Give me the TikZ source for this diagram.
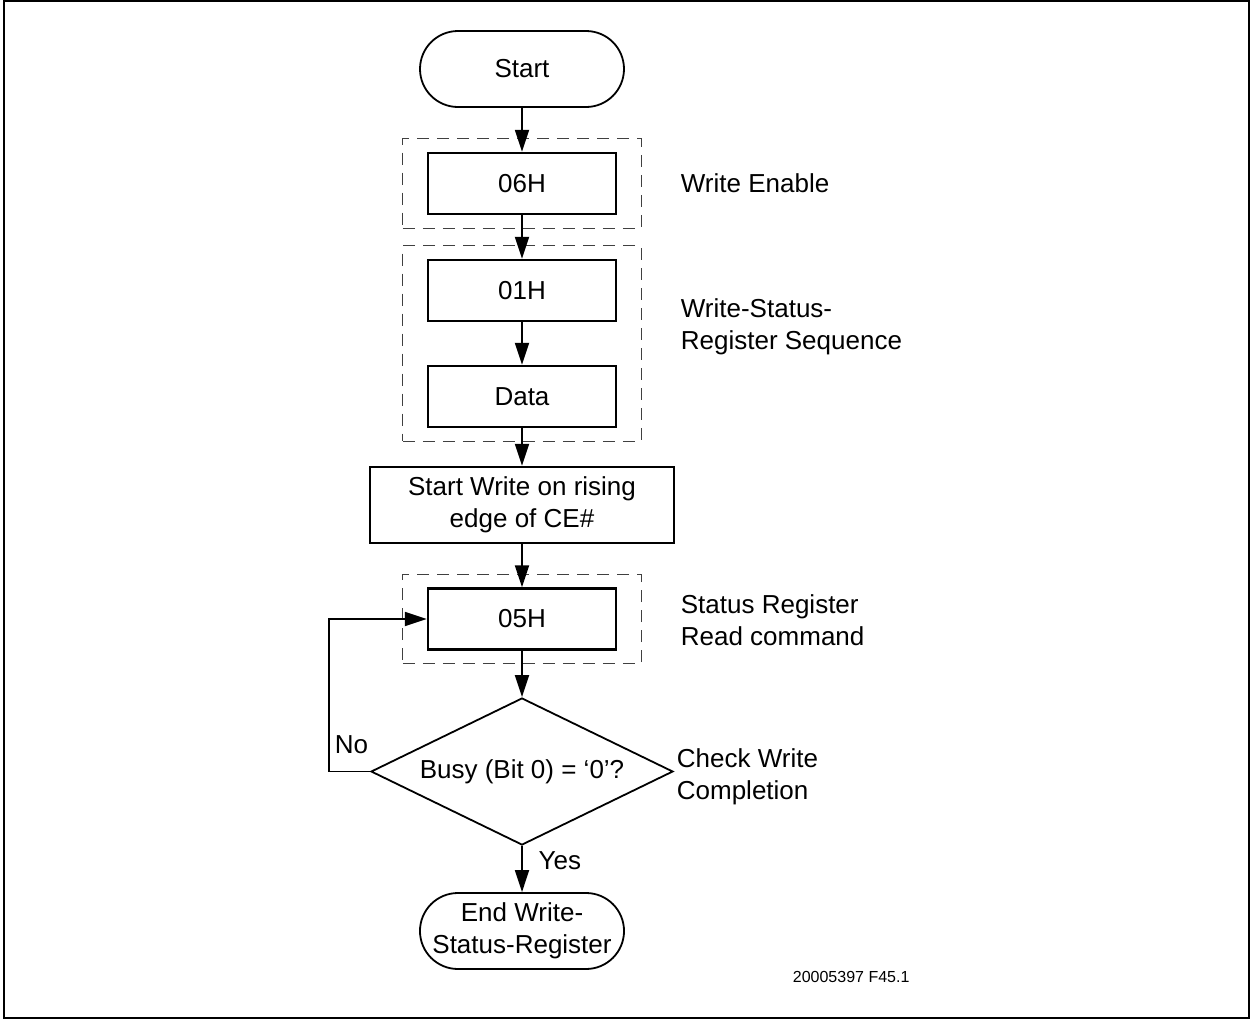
\documentclass[tikz,border=0pt]{standalone}
\usepackage{fontspec}
\setmainfont{Liberation Sans}
\usetikzlibrary{arrows.meta, shapes.geometric, shapes.misc, fit}

\tikzset{
  term/.style={draw, rounded rectangle, line width=0.9pt, minimum width=102pt, minimum height=38pt, inner sep=0pt, align=center},
  cmd/.style={draw, rectangle, line width=1.2pt, minimum width=94pt, minimum height=30.5pt, inner sep=0pt, align=center},
  grp/.style={draw=black!75, dash pattern=on 6pt off 4pt, line width=0.6pt, inner xsep=12pt, inner ysep=6.5pt},
  test/.style={draw, diamond, aspect=2.05, line width=0.9pt, minimum width=151pt, minimum height=73.5pt, inner sep=0pt},
  note/.style={anchor=west, align=left, inner sep=0pt},
}

\begin{document}
\begin{tikzpicture}[x=0.5pt, y=-0.5pt, >={Triangle[length=11pt, width=7pt]}, line width=0.9pt, font=\fontsize{13}{16}\selectfont]
  \useasboundingbox (0,0) rectangle (1250,1019);
  \draw[line width=1pt] (4,1) rectangle (1248.5,1017.5);

  \node (start) [term] at (522,69) {Start};
  \node (we) [cmd] at (522,183.5) {06H};
  \node (wsr) [cmd] at (522,290.5) {01H};
  \node (data) [cmd] at (522,396.5) {Data};
  \node (sw) [cmd, minimum width=152pt, minimum height=38pt] at (522,505) {Start Write on rising\\edge of CE\#};
  \node (rdsr) [cmd] at (522,619) {05H};
  \node (busy) [test] at (522,771.5) {Busy (Bit 0) = ‘0’?};
  \node (end) [term] at (522,931) {End Write-\\Status-Register};

  % dashed groups
  \node (g1) [grp, fit=(we)] {};
  \node (g2) [grp, fit=(wsr) (data)] {};
  \node (g3) [grp, fit=(rdsr)] {};

  \draw[->] (start) -- (we);
  \draw[->] (we) -- (wsr);
  \draw[->] (wsr) -- (data);
  \draw[->] (data) -- (sw);
  \draw[->] (sw) -- (rdsr);
  \draw[->] (rdsr) -- (busy);
  \draw[->] (busy) -- node[right=4.5pt, pos=0.33] {Yes} (end);
  \coordinate (back) at (329,771.5);
  \draw[->] (busy.west) -- (back) |- (rdsr.west);
  \node (no) [note] at (334,745) {No};

  % notes on the right
  \node (lwe) [note] at (680,183) {Write Enable};
  \node (lwsr) [note] at (680,327) {Write-Status-\\Register Sequence};
  \node (lrd) [note] at (680,620) {Status Register\\Read command};
  \node (lchk) [note] at (676,777) {Check Write\\Completion};
  \node (fig) [note, font=\fontsize{8}{10}\selectfont] at (792,977) {20005397 F45.1};
\end{tikzpicture}
\end{document}
